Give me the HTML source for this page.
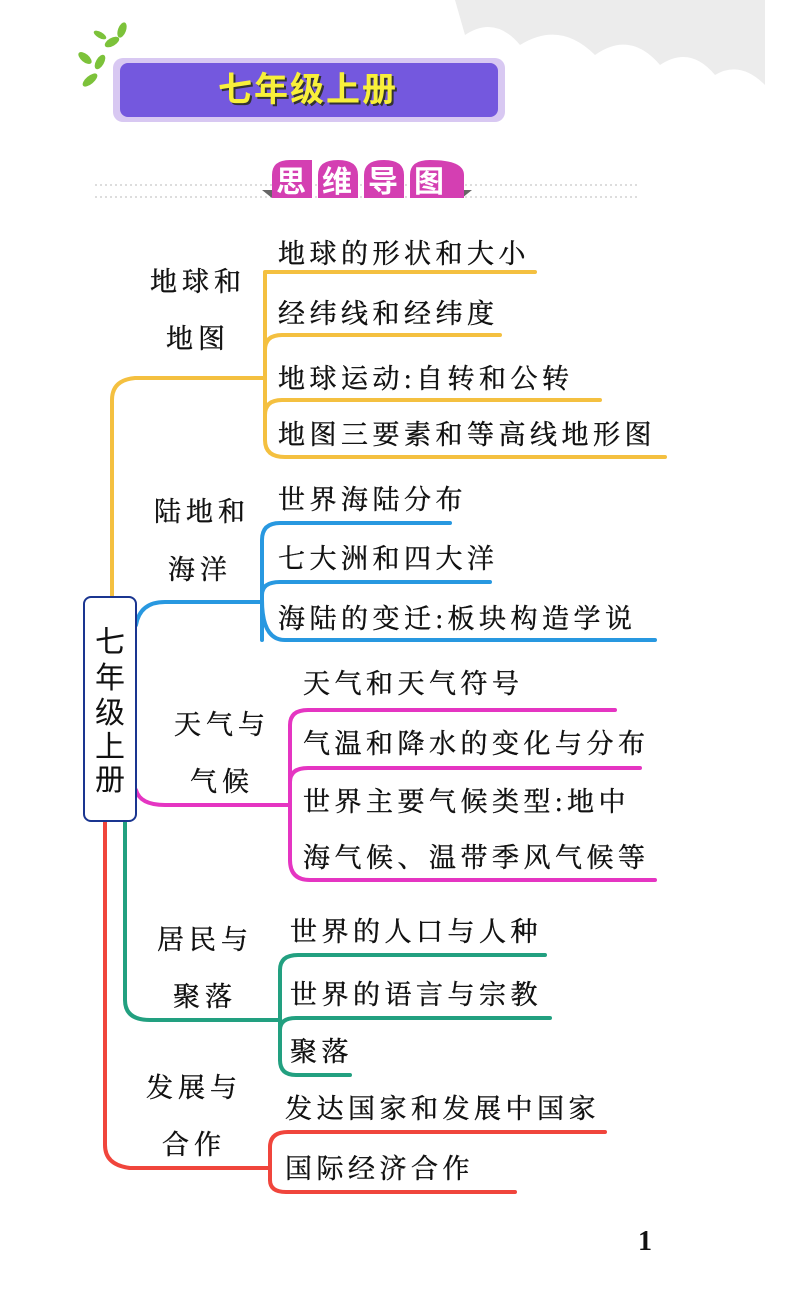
<!DOCTYPE html>
<html><head><meta charset="utf-8"><style>
html,body{margin:0;padding:0;background:#fff;}
svg{display:block;}
.t{font-family:"Liberation Serif","Noto Serif CJK SC",serif;font-size:27px;fill:#111;stroke:#111;stroke-width:0.4;letter-spacing:4.5px;}
.c{font-family:"Liberation Serif","Noto Serif CJK SC",serif;font-size:27px;fill:#111;stroke:#111;stroke-width:0.4;letter-spacing:5px;}
</style></head><body>
<svg width="790" height="1289" viewBox="0 0 790 1289" xmlns="http://www.w3.org/2000/svg">
<path d="M455 0 H765 V85 Q740 60 715 75 Q690 45 660 65 Q630 30 595 55 Q560 20 520 45 Q495 15 465 35 Z" fill="#ececec"/>
<g fill="#7cc23a">
<ellipse cx="90" cy="80" rx="9" ry="4" transform="rotate(-40 90 80)"/>
<ellipse cx="100" cy="62" rx="8" ry="4" transform="rotate(-60 100 62)"/>
<ellipse cx="112" cy="42" rx="8" ry="4" transform="rotate(-30 112 42)"/>
<ellipse cx="122" cy="30" rx="8" ry="4" transform="rotate(-70 122 30)"/>
<ellipse cx="85" cy="58" rx="8" ry="4" transform="rotate(40 85 58)"/>
<ellipse cx="100" cy="35" rx="7" ry="3" transform="rotate(30 100 35)"/>
</g>
<rect x="113" y="58" width="392" height="64" rx="10" fill="#d8c8f2"/>
<rect x="120" y="63" width="378" height="54" rx="8" fill="#7458de"/>
<text x="310" y="103" text-anchor="middle" font-family="Liberation Sans,'Noto Sans CJK SC',sans-serif" font-weight="bold" font-size="34" fill="#333" letter-spacing="2">七年级上册</text>
<text x="308" y="101" text-anchor="middle" font-family="Liberation Sans,'Noto Sans CJK SC',sans-serif" font-weight="bold" font-size="34" fill="#f8f03a" letter-spacing="2">七年级上册</text>
<line x1="95" y1="185" x2="640" y2="185" stroke="#bbb" stroke-dasharray="2 3"/>
<line x1="95" y1="197" x2="640" y2="197" stroke="#bbb" stroke-dasharray="2 3"/>
<polygon points="262,190 272,190 272,198" fill="#666"/>
<polygon points="462,190 472,190 462,198" fill="#666"/>
<g fill="#d43fb2">
<path d="M272 198 V175 Q272 160 290 160 H312 V198Z"/>
<path d="M318 198 V175 Q318 160 338 160 Q358 160 358 175 V198Z"/>
<path d="M364 198 V175 Q364 160 384 160 Q404 160 404 175 V198Z"/>
<path d="M410 198 V175 Q410 160 430 160 Q464 160 464 175 V198Z"/>
</g>
<text x="368" y="192" text-anchor="middle" font-family="Liberation Sans,'Noto Sans CJK SC',sans-serif" font-weight="bold" font-size="30" fill="#fff" letter-spacing="16">思维导图</text>

<g fill="none" stroke-width="4" stroke-linecap="round">
<g stroke="#f4c040">
<path d="M112 597 V400 Q112 380 135 378 H265"/>
<path d="M265 272 H535 M265 272 Q265 272 265 290 V440 Q265 457 285 457 H665"/>
<path d="M265 350 Q265 335 282 335 H500"/>
<path d="M265 415 Q265 400 282 400 H600"/>
</g>
<g stroke="#2898e0">
<path d="M136 625 Q140 602 165 602 H262"/>
<path d="M262 640 Q262 640 262 540 Q262 523 280 523 H450"/>
<path d="M262 600 Q262 640 285 640 H655"/>
<path d="M262 595 Q262 582 280 582 H490"/>
</g>
<g stroke="#e535c2">
<path d="M136 790 Q140 805 165 805 H290"/>
<path d="M290 860 V725 Q290 710 308 710 H615"/>
<path d="M290 860 Q290 880 310 880 H655"/>
<path d="M290 782 Q290 768 308 768 H640"/>
</g>
<g stroke="#22a080">
<path d="M125 821 V1000 Q125 1020 150 1020 H280"/>
<path d="M280 1060 V970 Q280 955 298 955 H545"/>
<path d="M280 1060 Q280 1075 296 1075 H350"/>
<path d="M280 1030 Q280 1018 296 1018 H550"/>
</g>
<g stroke="#f0453c">
<path d="M105 821 V1145 Q105 1165 130 1168 H270"/>
<path d="M270 1180 V1147 Q270 1132 288 1132 H605"/>
<path d="M270 1180 Q270 1192 286 1192 H515"/>
</g>
</g>

<rect x="84" y="597" width="52" height="224" rx="7" fill="#fff" stroke="#1a3590" stroke-width="2"/>
<g font-family="Liberation Sans,'Noto Sans CJK SC',sans-serif" font-size="30" fill="#111" text-anchor="middle">
<text x="110" y="652">七</text><text x="110" y="688">年</text><text x="110" y="723">级</text><text x="110" y="757">上</text><text x="110" y="790">册</text>
</g>

<text class="c" x="150" y="291">地球和</text><text class="c" x="166" y="348">地图</text>
<text class="c" x="154" y="521">陆地和</text><text class="c" x="168" y="579">海洋</text>
<text class="c" x="174" y="734">天气与</text><text class="c" x="190" y="791">气候</text>
<text class="c" x="157" y="949">居民与</text><text class="c" x="173" y="1006">聚落</text>
<text class="c" x="146" y="1097">发展与</text><text class="c" x="162" y="1154">合作</text>

<text class="t" x="278" y="263">地球的形状和大小</text>
<text class="t" x="278" y="323">经纬线和经纬度</text>
<text class="t" x="278" y="388">地球运动:自转和公转</text>
<text class="t" x="278" y="444">地图三要素和等高线地形图</text>
<text class="t" x="278" y="509">世界海陆分布</text>
<text class="t" x="278" y="568">七大洲和四大洋</text>
<text class="t" x="278" y="628">海陆的变迁:板块构造学说</text>
<text class="t" x="303" y="693">天气和天气符号</text>
<text class="t" x="303" y="753">气温和降水的变化与分布</text>
<text class="t" x="303" y="811">世界主要气候类型:地中</text>
<text class="t" x="303" y="867">海气候、温带季风气候等</text>
<text class="t" x="290" y="941">世界的人口与人种</text>
<text class="t" x="290" y="1004">世界的语言与宗教</text>
<text class="t" x="290" y="1061">聚落</text>
<text class="t" x="285" y="1118">发达国家和发展中国家</text>
<text class="t" x="285" y="1178">国际经济合作</text>

<text x="645" y="1250" text-anchor="middle" font-family="Liberation Serif,serif" font-weight="bold" font-size="28" fill="#111">1</text>
</svg>
</body></html>
